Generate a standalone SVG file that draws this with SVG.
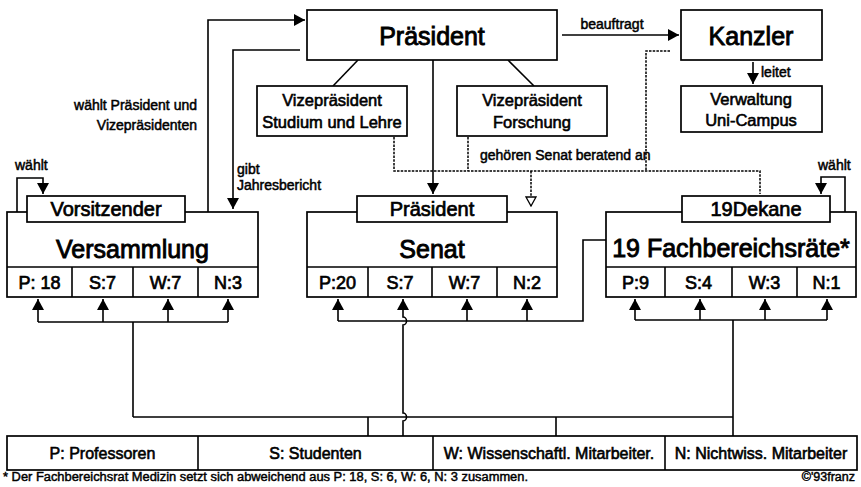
<svg xmlns="http://www.w3.org/2000/svg" width="861" height="487" viewBox="0 0 861 487">
<defs>
<style>
.b{fill:#fff;stroke:#000;stroke-width:1.7}
.l{fill:none;stroke:#000;stroke-width:1.6}
.d{fill:none;stroke:#000;stroke-width:1.5;stroke-dasharray:2.5 1.2}
.a{marker-end:url(#ah)}
text{font-family:"Liberation Sans",Arial,sans-serif;fill:#000;stroke:#000;stroke-width:0.5}
.c{text-anchor:middle}
.h{font-size:25px;stroke-width:0.9}
.s{font-size:20px;stroke-width:0.7}
.v{font-size:16.5px;stroke-width:0.6}
.g{font-size:18px;stroke-width:0.7}
.k{font-size:14px;stroke-width:0.5}
.e{font-size:16px;stroke-width:0.6}
.f{font-size:12.5px;stroke-width:0.45}
</style>
<marker id="ah" markerUnits="userSpaceOnUse" markerWidth="11" markerHeight="12" refX="11" refY="6" orient="auto">
<path d="M0,0 L11,6 L0,12 z" fill="#000"/>
</marker>
<marker id="oh" markerUnits="userSpaceOnUse" markerWidth="11" markerHeight="12" refX="10" refY="6" orient="auto">
<path d="M1,1 L10,6 L1,11 z" fill="#fff" stroke="#000" stroke-width="1.3"/>
</marker>
</defs>
<rect width="861" height="487" fill="#fff"/>

<g id="connectors">
<path class="d" d="M394,137 V171 H760 V194"/>
<path class="d" d="M468,137 V171"/>
<path class="d" d="M670,51 H646 V171"/>
<path class="d" d="M531,171 V206" marker-end="url(#oh)"/>
<path class="l a" d="M433,60 V194"/>
<path class="l" d="M358,60 L333,86"/>
<path class="l" d="M508,60 L534,86"/>
<path class="l a" d="M208,212 V20 H305"/>
<path class="l a" d="M300,50 H233 V209"/>
<path class="l a" d="M562,35 H679"/>
<path class="l a" d="M753,62 V84"/>
<path class="l a" d="M17,212 V178 H43 V194"/>
<path class="l a" d="M845,212 V177 H821 V194"/>
<path class="l" d="M38,322 H228 M133,322 V417"/>
<path class="l a" d="M38,322 V299"/>
<path class="l a" d="M103,322 V299"/>
<path class="l a" d="M168,322 V299"/>
<path class="l a" d="M228,322 V299"/>
<path class="l" d="M338,321 H583 V240 H606"/>
<path class="l a" d="M338,321 V299"/>
<path class="l a" d="M467,321 V299"/>
<path class="l a" d="M527,321 V299"/>
<path class="l a" d="M403,436 V421 A3.5,4 0 0 0 403,413 V325 A3.5,4 0 0 0 403,317 V299"/>
<path class="l" d="M635,320 H827 M733,320 V436"/>
<path class="l a" d="M635,320 V299"/>
<path class="l a" d="M700,320 V299"/>
<path class="l a" d="M765,320 V299"/>
<path class="l a" d="M827,320 V299"/>
<path class="l" d="M133,417 H733 M368,417 V436 M556,417 V436"/>
</g>

<g id="labels">
<text class="k c" x="612" y="29">beauftragt</text>
<text class="k" x="761" y="77">leitet</text>
<text class="k" x="480" y="160">gehören Senat beratend an</text>
<text class="k" x="197" y="110" text-anchor="end">wählt Präsident und</text>
<text class="k" x="197" y="130" text-anchor="end">Vizepräsidenten</text>
<text class="k" x="237" y="174">gibt</text>
<text class="k" x="237" y="190">Jahresbericht</text>
<text class="k" x="15" y="170">wählt</text>
<text class="k" x="818" y="170">wählt</text>
</g>

<g id="praesident">
<rect class="b" x="307" y="10" width="250" height="50"/>
<text class="h c" x="432" y="45">Präsident</text>
</g>
<g id="kanzler">
<rect class="b" x="681" y="10" width="141" height="50"/>
<text class="h c" x="751" y="45">Kanzler</text>
</g>
<g id="vp-studium">
<rect class="b" x="257" y="86" width="150" height="50"/>
<text class="v c" x="332" y="106">Vizepräsident</text>
<text class="v c" x="332" y="128">Studium und Lehre</text>
</g>
<g id="vp-forschung">
<rect class="b" x="457" y="86" width="150" height="50"/>
<text class="v c" x="532" y="106">Vizepräsident</text>
<text class="v c" x="532" y="128">Forschung</text>
</g>
<g id="verwaltung">
<rect class="b" x="681" y="86" width="141" height="46"/>
<text class="v c" x="751" y="105">Verwaltung</text>
<text class="v c" x="751" y="126">Uni-Campus</text>
</g>

<g id="versammlung">
<rect class="b" x="7" y="212" width="251" height="85"/>
<path class="l" d="M7,267 H258 M72,267 V297 M133,267 V297 M198,267 V297"/>
<text class="h c" x="132.5" y="258">Versammlung</text>
<text class="g c" x="39.5" y="289">P: 18</text>
<text class="g c" x="102.5" y="289">S:7</text>
<text class="g c" x="165.5" y="289">W:7</text>
<text class="g c" x="228" y="289">N:3</text>
<rect class="b" x="27" y="196" width="158" height="26"/>
<text class="s c" x="106" y="216">Vorsitzender</text>
</g>

<g id="senat">
<rect class="b" x="307" y="212" width="250" height="85"/>
<path class="l" d="M307,267 H557 M368,267 V297 M432,267 V297 M497,267 V297"/>
<text class="h c" x="432" y="258">Senat</text>
<text class="g c" x="337.5" y="289">P:20</text>
<text class="g c" x="400" y="289">S:7</text>
<text class="g c" x="464.5" y="289">W:7</text>
<text class="g c" x="527" y="289">N:2</text>
<rect class="b" x="357" y="196" width="150" height="26"/>
<text class="s c" x="432" y="216">Präsident</text>
</g>

<g id="fachbereichsraete">
<rect class="b" x="606" y="212" width="250" height="85"/>
<path class="l" d="M606,267 H856 M665,267 V297 M732,267 V297 M797,267 V297"/>
<text class="h c" x="731" y="257">19 Fachbereichsräte*</text>
<text class="g c" x="635.5" y="289">P:9</text>
<text class="g c" x="698.5" y="289">S:4</text>
<text class="g c" x="764.5" y="289">W:3</text>
<text class="g c" x="826.5" y="289">N:1</text>
<rect class="b" x="682" y="196" width="148" height="26"/>
<text class="s c" x="756" y="216">19Dekane</text>
</g>

<g id="legende">
<rect class="b" x="7" y="436" width="850" height="34"/>
<path class="l" d="M198,436 V470 M433,436 V470 M665,436 V470"/>
<text class="e c" x="102.5" y="459">P: Professoren</text>
<text class="e c" x="315.5" y="459">S: Studenten</text>
<text class="e c" x="549" y="459">W: Wissenschaftl. Mitarbeiter.</text>
<text class="e c" x="761" y="459">N: Nichtwiss. Mitarbeiter</text>
</g>

<g id="fussnote">
<text class="f" x="3" y="481" textLength="525" lengthAdjust="spacingAndGlyphs">* Der Fachbereichsrat Medizin setzt sich abweichend aus  P: 18, S: 6, W: 6, N: 3  zusammen.</text>
<text class="f" x="855" y="481" text-anchor="end">©'93franz</text>
</g>
</svg>
